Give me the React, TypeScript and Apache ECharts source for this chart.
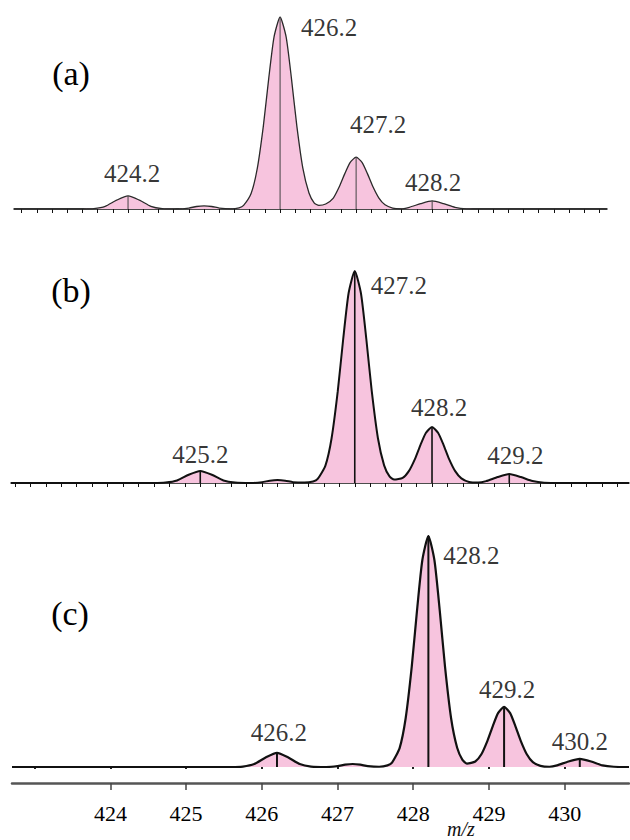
import React, { useEffect, useRef } from "react";
import * as echarts from "echarts";

// ---------- data ----------
// labelled peaks (m/z) and their relative intensities (% of the base peak)
const MZ_A = [424.2, 426.2, 427.2, 428.2];
const INT_A = [6.8, 100, 27, 4.2];
const MZ_B = [425.2, 427.2, 428.2, 429.2];
const INT_B = [5.7, 100, 26.4, 4.2];
const MZ_C = [426.2, 428.2, 429.2, 430.2];
const INT_C = [6.1, 100, 26, 3.5];

// traced profile curves [m/z, relative intensity]
const PROFILE_A = [
  [422.7, 0], [423.6, 0],
  [423.75, 0.2], [423.9, 1.4], [424.05, 4.6], [424.2, 6.8], [424.35, 4.6], [424.5, 1.4], [424.65, 0.2],
  [424.85, 0],
  [425.0, 0.5], [425.1, 1.3], [425.2, 1.6], [425.3, 1.3], [425.4, 0.5],
  [425.55, 0.1], [425.66, 0.6],
  [425.72, 1.9], [425.82, 8.2], [425.9, 21.1], [425.98, 43.3], [426.05, 67.8], [426.12, 89.5], [426.2, 100],
  [426.28, 89.5], [426.35, 67.8], [426.42, 43.3], [426.5, 21.1], [426.58, 8.3], [426.65, 3.1], [426.71, 1.9],
  [426.8, 2.6], [426.9, 5.7], [426.98, 11.7], [427.05, 18.3], [427.12, 24.2], [427.2, 27],
  [427.28, 24.2], [427.35, 18.3], [427.42, 11.7], [427.5, 5.7], [427.58, 2.2], [427.68, 0.5],
  [427.78, 0.1],
  [427.9, 0.9], [428.05, 2.8], [428.2, 4.2], [428.35, 2.8], [428.5, 0.9], [428.65, 0.1],
  [428.9, 0], [430.5, 0],
];
const PROFILE_B = [
  [422.75, 0], [424.6, 0],
  [424.75, 0.2], [424.9, 1.2], [425.05, 3.9], [425.2, 5.7], [425.35, 3.9], [425.5, 1.2], [425.65, 0.2],
  [425.85, 0],
  [426.0, 0.4], [426.1, 1.1], [426.2, 1.4], [426.3, 1.1], [426.4, 0.4],
  [426.55, 0.2], [426.66, 0.7],
  [426.72, 1.9], [426.82, 8.2], [426.9, 21.1], [426.98, 43.3], [427.05, 67.8], [427.12, 89.5], [427.2, 100],
  [427.28, 89.5], [427.35, 67.8], [427.42, 43.3], [427.5, 21.1], [427.58, 8.3], [427.65, 3.1], [427.71, 1.6],
  [427.82, 2.4], [427.9, 5.6], [427.98, 11.4], [428.05, 17.9], [428.12, 23.6], [428.2, 26.4],
  [428.28, 23.6], [428.35, 17.9], [428.42, 11.4], [428.5, 5.6], [428.58, 2.2], [428.68, 0.5],
  [428.8, 0.2],
  [428.9, 0.9], [429.05, 2.8], [429.2, 4.2], [429.35, 2.8], [429.5, 0.9], [429.65, 0.1],
  [429.9, 0], [430.75, 0],
];
const PROFILE_C = [
  [422.7, 0], [425.6, 0],
  [425.75, 0.2], [425.9, 1.3], [426.05, 4.1], [426.2, 6.1], [426.35, 4.1], [426.5, 1.3], [426.65, 0.2],
  [426.85, 0],
  [427.0, 0.4], [427.1, 1.0], [427.2, 1.3], [427.3, 1.0], [427.4, 0.4],
  [427.55, 0.1], [427.66, 0.7],
  [427.72, 1.9], [427.82, 8.2], [427.9, 21.1], [427.98, 43.3], [428.05, 67.8], [428.12, 89.5], [428.2, 100],
  [428.28, 89.5], [428.35, 67.8], [428.42, 43.3], [428.5, 21.1], [428.58, 8.3], [428.65, 3.1], [428.71, 1.5],
  [428.82, 2.4], [428.9, 5.5], [428.98, 11.3], [429.05, 17.6], [429.12, 23.3], [429.2, 26],
  [429.28, 23.3], [429.35, 17.6], [429.42, 11.3], [429.5, 5.5], [429.58, 2.1], [429.68, 0.5],
  [429.8, 0.1],
  [429.9, 0.7], [430.05, 2.4], [430.2, 3.5], [430.35, 2.4], [430.5, 0.7], [430.65, 0.1],
  [430.85, 0],
];

const AXIS_TICKS = [424, 425, 426, 427, 428, 429, 430];
const BASELINE_DOTS = [423, 424, 425, 426, 427, 428, 429, 430];
const PANEL_NAMES = ["(a)", "(b)", "(c)"];
const AXIS_NAME = "m/z";

// minor ticks every 0.2 m/z on the baselines of (a) and (b)
const MINOR_TICKS: number[] = [];
for (let i = 0; i <= 40; i++) MINOR_TICKS.push(Math.round((422.8 + i * 0.2) * 10) / 10);

// ---------- layout / style ----------
const SERIF = "Liberation Serif";
const PINK = "#F7C4DE";
const PANELS = [
  {
    mz: MZ_A, inten: INT_A, profile: PROFILE_A,
    grid: { left: 14, width: 593, top: 17, height: 192 }, min: 422.7, max: 430.5,
    lineColor: "#2a2a2a", lineWidth: 1.3, stickColor: "#444", stickWidth: 1,
    offsets: [[4, -22], [49, 10], [22, -33], [1, -18]], tag: [71, 73],
  },
  {
    mz: MZ_B, inten: INT_B, profile: PROFILE_B,
    grid: { left: 11, width: 618, top: 271, height: 212 }, min: 422.75, max: 430.75,
    lineColor: "#111", lineWidth: 2, stickColor: "#111", stickWidth: 1.6,
    offsets: [[0, -16], [44, 14], [7, -20], [6, -19]], tag: [71, 290],
  },
  {
    mz: MZ_C, inten: INT_C, profile: PROFILE_C,
    grid: { left: 12, width: 617, top: 536, height: 231 }, min: 422.7, max: 430.85,
    lineColor: "#111", lineWidth: 2.2, stickColor: "#111", stickWidth: 2,
    offsets: [[2, -20], [43, 19], [3, -17], [0, -17]], tag: [70, 613],
  },
];

function buildOption() {
  const grid = PANELS.map((p) => ({ ...p.grid }));
  const yAxis = PANELS.map((_, i) => ({ type: "value", gridIndex: i, min: 0, max: 100, show: false }));
  const xAxis: any[] = [];
  PANELS.forEach((p, i) => {
    if (i < 2) {
      xAxis.push({
        type: "value", gridIndex: i, min: p.min, max: p.max, position: "bottom",
        axisLine: { show: true, onZero: false, lineStyle: { color: "#111", width: 1.5 } },
        axisTick: {
          show: true, inside: false, length: 4,
          customValues: MINOR_TICKS.filter((v) => v > p.min && v < p.max),
          lineStyle: { color: "#111", width: 1 },
        },
        axisLabel: { show: false },
        splitLine: { show: false },
      });
    } else {
      xAxis.push({
        type: "value", gridIndex: i, min: p.min, max: p.max, position: "bottom",
        axisLine: { show: false, onZero: false },
        axisTick: { show: true, inside: false, length: 2, customValues: BASELINE_DOTS, lineStyle: { color: "#222", width: 2 } },
        axisLabel: { show: false },
        splitLine: { show: false },
      });
      xAxis.push({
        type: "value", gridIndex: i, min: p.min, max: p.max, position: "bottom", offset: 16,
        axisLine: { show: true, onZero: false, lineStyle: { color: "#555", width: 2.5 } },
        axisTick: { show: true, inside: false, length: 7, customValues: AXIS_TICKS, lineStyle: { color: "#444", width: 1.5 } },
        axisLabel: {
          show: true, customValues: AXIS_TICKS, margin: 19,
          fontFamily: SERIF, fontSize: 22, color: "#000",
          formatter: (v: number) => String(v),
        },
        splitLine: { show: false },
      });
    }
  });

  const xIndexFor = [0, 1, 3];
  const series: any[] = [];
  PANELS.forEach((p, i) => {
    series.push({
      type: "line", xAxisIndex: xIndexFor[i], yAxisIndex: i,
      data: p.profile, showSymbol: false, smooth: 0.2, z: 2,
      lineStyle: { color: p.lineColor, width: p.lineWidth },
      areaStyle: { color: PINK, opacity: 1 },
      silent: true,
    });
    series.push({
      type: "custom", xAxisIndex: xIndexFor[i], yAxisIndex: i, z: 3,
      data: p.mz.map((m, k) => [m, p.inten[k]]),
      renderItem: (_params: any, api: any) => {
        const x = api.value(0);
        const h = api.value(1);
        const a = api.coord([x, 0]);
        const b = api.coord([x, h]);
        return {
          type: "line",
          shape: { x1: a[0], y1: a[1], x2: b[0], y2: b[1] },
          style: { stroke: p.stickColor, lineWidth: p.stickWidth },
        };
      },
      silent: true,
    });
    series.push({
      type: "scatter", xAxisIndex: xIndexFor[i], yAxisIndex: i, z: 4,
      symbol: "circle", symbolSize: 1, itemStyle: { color: "transparent" },
      data: p.mz.map((m, k) => ({ name: m.toFixed(1), value: [m, p.inten[k]], label: { offset: p.offsets[k] } })),
      label: { show: true, position: "inside", formatter: "{b}", fontFamily: SERIF, fontSize: 25, color: "#000" },
      silent: true,
    });
  });

  const graphic: any[] = PANELS.map((p, i) => ({
    type: "text", x: p.tag[0], y: p.tag[1],
    style: {
      text: PANEL_NAMES[i], font: `34px "${SERIF}"`, fill: "#000",
      textAlign: "center", textVerticalAlign: "middle",
    },
  }));
  graphic.push({
    type: "text", x: 461, y: 829,
    style: {
      text: AXIS_NAME, font: `italic 20px "${SERIF}"`, fill: "#111",
      textAlign: "center", textVerticalAlign: "middle",
    },
  });

  return { animation: false, backgroundColor: "#ffffff", grid, xAxis, yAxis, series, graphic };
}

export default function App() {
  const ref = useRef<HTMLDivElement>(null);
  useEffect(() => {
    if (!ref.current) return;
    const chart = echarts.init(ref.current, undefined, { renderer: "svg" });
    chart.setOption(buildOption() as any);
    return () => chart.dispose();
  }, []);
  return <div ref={ref} style={{ position: "fixed", left: 0, top: 0, width: 630, height: 840, background: "#fff" }} />;
}
